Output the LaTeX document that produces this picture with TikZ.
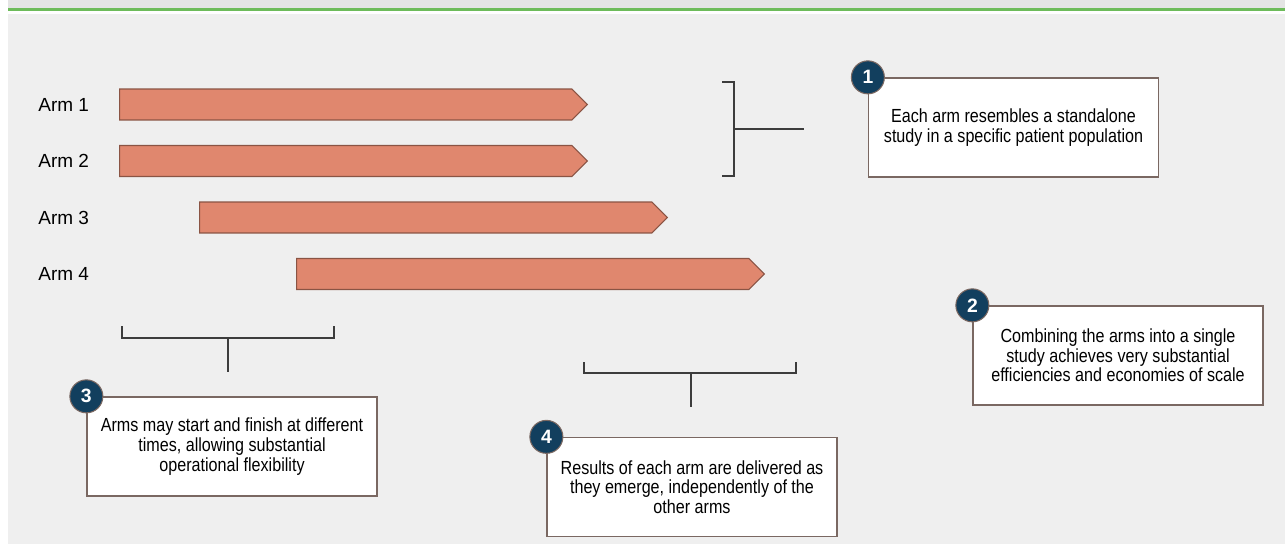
\documentclass[tikz,border=0pt]{standalone}
\usepackage{fontspec}
\setmainfont{Liberation Sans}
\newfontfamily\boxfont{Liberation Sans}[FakeStretch=0.85]
\usetikzlibrary{shapes.symbols,positioning}
\definecolor{armfill}{HTML}{E0876E}
\definecolor{armedge}{HTML}{8A5444}
\definecolor{navy}{HTML}{123F5E}
\definecolor{boxedge}{HTML}{7A6862}
\definecolor{brk}{HTML}{3C3C3C}
\definecolor{panel}{HTML}{EFEFEF}
\definecolor{topbar}{HTML}{E4E4E4}
\definecolor{rule}{HTML}{6DBB5A}

\begin{document}
\begin{tikzpicture}[x=0.02cm,y=-0.02cm,
  arm/.style={signal,signal to=east,signal from=nowhere,draw=armedge,fill=armfill,line width=0.6pt,
    minimum width=9.36cm,minimum height=0.62cm,inner sep=0,anchor=west},
  armlabel/.style={anchor=west,inner sep=0,font=\fontsize{10.8}{12}\selectfont},
  note/.style={draw=boxedge,fill=white,line width=0.75pt,minimum width=5.8cm,minimum height=1.98cm,
    align=center,font=\boxfont\fontsize{10.8}{11.2}\selectfont},
  badge/.style={circle,draw=boxedge,fill=navy,line width=0.6pt,minimum size=0.66cm,inner sep=0,
    text=white,font=\bfseries\fontsize{11}{12}\selectfont},
  bracket/.style={draw=brk,line width=0.85pt}]
\useasboundingbox (0,0) rectangle (1285,544);
\fill[white] (0,0) rectangle (1285,544);
\fill[topbar] (8,0) rectangle (1285,9);
\draw[rule,line width=1.2pt] (8,9.5) -- (1285,9.5);
\fill[panel] (8,14) rectangle (1285,544);

\foreach \i/\x/\y in {1/119/104.5,2/119/161,3/199/217.5,4/296/274}{
  \node[arm] (arm\i) at (\x,\y) {};
  \node[armlabel] (lab\i) at (38,\y) {Arm \i};
}

\node[note] (n1) at (1013.5,127.5) {Each arm resembles a standalone\\study in a specific patient population};
\node[note] (n2) at (1118,355.5) {Combining the arms into a single\\study achieves very substantial\\efficiencies and economies of scale};
\node[note] (n3) at (232,446.5) {Arms may start and finish at different\\times, allowing substantial\\operational flexibility};
\node[note] (n4) at (692,487) {Results of each arm are delivered as\\they emerge, independently of the\\other arms};
\foreach \n in {1,2,3,4}{\node[badge] (c\n) at (n\n.north west) {\n};}

\coordinate (b1top) at (722,82);
\coordinate (b1mid) at (734,129);
\coordinate (b1bot) at (722,176);
\coordinate (b1end) at (804,129);
\draw[bracket] (b1top) -| (b1mid) |- (b1bot);
\draw[bracket] (b1mid) -- (b1end);

\coordinate (b3l) at (122,326);
\coordinate (b3mid) at (228,338);
\coordinate (b3r) at (334,326);
\coordinate (b3end) at (228,372);
\draw[bracket] (b3l) |- (b3mid) -| (b3r);
\draw[bracket] (b3mid) -- (b3end);

\coordinate (b4l) at (584,362);
\coordinate (b4mid) at (691,373);
\coordinate (b4r) at (796,362);
\coordinate (b4end) at (691,407);
\draw[bracket] (b4l) |- (b4mid) -| (b4r);
\draw[bracket] (b4mid) -- (b4end);
\end{tikzpicture}
\end{document}
